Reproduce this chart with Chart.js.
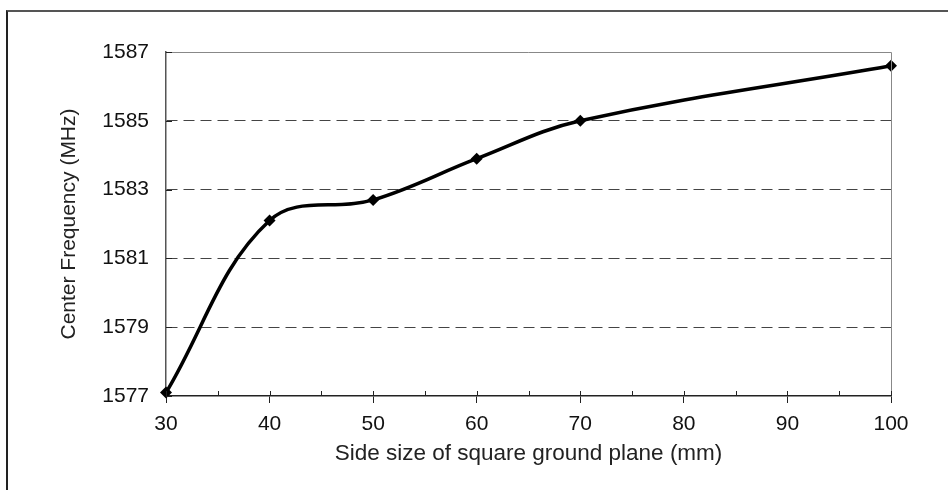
<!DOCTYPE html>
<html>
<head>
<meta charset="utf-8">
<script src="https://cdn.jsdelivr.net/npm/chart.js@4"></script>
<style>
  body { margin: 0; background: #fff; }
  #wrap { position: absolute; left: 0; top: 0; width: 948px; height: 490px; }
  #frame {
    position: absolute; left: 6px; top: 10px; right: 0; bottom: 0;
    border-top: 2px solid #555; border-left: 2px solid #222;
    pointer-events: none;
  }
</style>
</head>
<body>
<div id="wrap">
  <canvas id="freqChart" width="948" height="490"></canvas>
  <div id="frame"></div>
</div>
<script>
// ground plane side size (mm) vs center frequency (MHz)
const sideSize = [30, 40, 50, 60, 70, 100];
const centerFreq = [1577.1, 1582.1, 1582.7, 1583.9, 1585.0, 1586.6];
const xTicks = [30, 40, 50, 60, 70, 80, 90, 100];
const yTicks = [1577, 1579, 1581, 1583, 1585, 1587];

const FONT = "'Liberation Sans', Arial, sans-serif";

// inside tick marks + top/right frame of the plot box
const boxPlugin = {
    id: "boxPlugin",
    afterDraw(chart) {
        const { ctx, chartArea: a, scales } = chart;
        ctx.save();
        ctx.strokeStyle = "#888";
        ctx.lineWidth = 1;
        ctx.beginPath();
        ctx.moveTo(a.left, a.top + 0.5);
        ctx.lineTo(a.right + 0.5, a.top + 0.5);
        ctx.lineTo(a.right + 0.5, a.bottom);
        ctx.stroke();

        ctx.strokeStyle = "#222";
        ctx.beginPath();
        for (let v = 30; v <= 100; v += 5) {
            const x = Math.round(scales.x.getPixelForValue(v)) + 0.5;
            ctx.moveTo(x, a.bottom);
            ctx.lineTo(x, a.bottom - 5);
        }
        yTicks.forEach((v) => {
            const y = Math.round(scales.y.getPixelForValue(v)) + 0.5;
            ctx.moveTo(a.left, y);
            ctx.lineTo(a.left + 6, y);
        });
        ctx.stroke();
        ctx.restore();
    },
};

const ctx = document.getElementById("freqChart").getContext("2d");
const freqChart = new Chart(ctx, {
    type: "line",
    data: {
        datasets: [
            {
                data: sideSize.map((x, i) => ({ x: x, y: centerFreq[i] })),
                borderColor: "#000",
                backgroundColor: "#000",
                borderWidth: 3.5,
                tension: 0.38,
                pointStyle: "rectRot",
                pointRadius: 6,
                pointBorderWidth: 0,
                clip: false,
            },
        ],
    },
    options: {
        responsive: false,
        animation: false,
        events: [],
        layout: { padding: { top: 52, right: 57, left: 0, bottom: 0 } },
        plugins: { legend: { display: false }, tooltip: { enabled: false } },
        scales: {
            x: {
                type: "linear",
                min: 30,
                max: 100,
                afterBuildTicks: (scale) => {
                    scale.ticks = xTicks.map((v) => ({ value: v }));
                },
                afterFit: (scale) => {
                    scale.height = 94;
                },
                grid: {
                    drawOnChartArea: false,
                    drawTicks: true,
                    tickLength: 7,
                    tickColor: "#222",
                },
                border: { color: "#222", width: 1.5 },
                ticks: {
                    padding: 9,
                    color: "#111",
                    font: { family: FONT, size: 21 },
                },
                title: {
                    display: true,
                    text: "Side size of square ground plane (mm)",
                    color: "#222",
                    font: { family: FONT, size: 22.5 },
                    padding: { top: 0, bottom: 23 },
                },
            },
            y: {
                min: 1577,
                max: 1587,
                afterBuildTicks: (scale) => {
                    scale.ticks = yTicks.map((v) => ({ value: v }));
                },
                afterFit: (scale) => {
                    scale.width = 166;
                },
                grid: {
                    drawTicks: false,
                    color: (c) =>
                        c.tick && (c.tick.value === 1577 || c.tick.value === 1587)
                            ? "rgba(0,0,0,0)"
                            : "#444",
                    lineWidth: 1,
                },
                border: { color: "#555", width: 1.5, dash: [11, 6] },
                ticks: {
                    padding: 17,
                    color: "#111",
                    font: { family: FONT, size: 21 },
                    callback: (v) => String(v),
                },
                title: {
                    display: true,
                    text: "Center Frequency (MHz)",
                    color: "#222",
                    font: { family: FONT, size: 21 },
                    padding: { top: 57, bottom: 0 },
                },
            },
        },
    },
    plugins: [boxPlugin],
});
</script>
</body>
</html>
